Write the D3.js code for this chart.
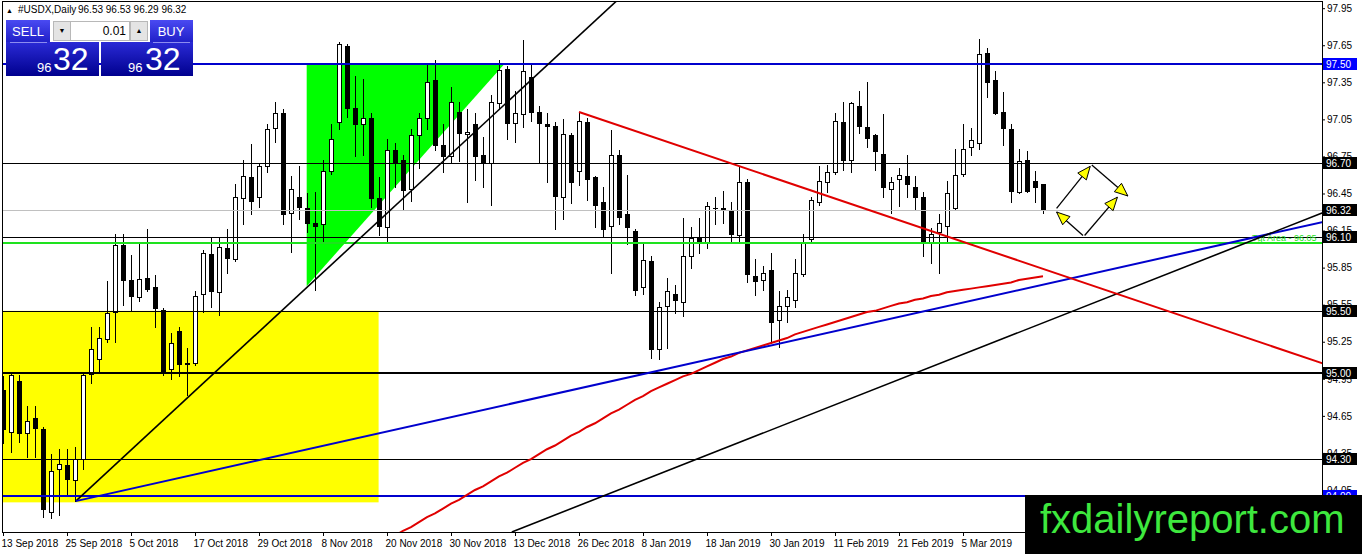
<!DOCTYPE html>
<html>
<head>
<meta charset="utf-8">
<script src="https://cdn.jsdelivr.net/npm/d3@7"></script>
<style>
  body { margin: 0; background: #fff; overflow: hidden; }
  svg { display: block; font-family: "Liberation Sans", Arial, sans-serif; }
</style>
</head>
<body>
<script>
// daily bars, one value per trading day starting 13 Sep 2018
var opens = [94.86,94.52,94.93,94.51,94.63,94.54,93.87,94.22,94.25,94.13,94.30,94.99,95.11,95.27,95.49,96.03,95.75,95.61,95.77,95.69,
  95.51,95.03,95.34,95.07,95.08,95.64,95.96,95.65,96.01,95.92,96.41,96.58,96.42,96.67,96.98,97.10,96.29,96.42,96.33,96.21,
  96.20,96.63,97.03,97.64,97.14,97.01,97.06,96.41,96.18,96.80,96.72,96.49,96.92,97.06,97.37,96.84,96.75,97.11,96.93,97.01,
  96.76,96.70,97.18,97.46,97.02,97.09,97.39,97.11,97.01,97.00,96.42,96.92,96.63,97.03,96.58,96.38,96.19,96.76,96.28,96.15,
  95.69,95.90,95.19,95.54,95.64,95.57,95.94,96.09,96.06,96.33,96.33,96.31,96.11,96.54,95.78,95.75,95.83,95.43,95.54,95.59,
  95.80,96.08,96.38,96.54,96.62,97.03,96.72,97.16,96.99,96.92,96.77,96.49,96.57,96.59,96.50,96.42,96.05,96.14,96.19,96.33,
  96.61,96.83,96.86,97.59,97.37,97.11,96.97,96.46,96.72,96.55,96.53];
var highs = [94.97,94.99,94.98,94.73,94.73,94.56,94.34,94.38,94.38,94.40,95.00,95.37,95.37,95.74,96.12,96.12,95.95,96.04,96.16,95.79,
  95.52,95.32,95.37,95.20,95.66,95.99,96.10,96.10,96.16,96.53,96.72,96.85,96.70,97.01,97.19,97.13,96.59,96.67,96.45,96.46,
  96.72,97.01,97.68,97.66,97.40,97.38,97.10,96.58,96.89,96.86,96.76,96.97,97.10,97.50,97.53,97.01,97.31,97.19,97.13,97.10,
  96.91,97.25,97.53,97.48,97.28,97.69,97.49,97.16,97.10,97.03,97.05,96.94,97.11,97.06,96.59,96.50,96.96,96.80,96.60,96.16,
  96.04,95.94,95.57,95.77,95.71,96.25,96.18,96.25,96.38,96.42,96.47,96.38,96.67,96.57,95.92,95.86,95.97,95.66,95.67,95.92,
  96.12,96.42,96.67,96.68,97.10,97.19,97.19,97.28,97.35,96.93,97.09,96.58,96.66,96.76,96.59,96.46,96.17,96.28,96.55,96.81,
  97.01,96.98,97.70,97.63,97.44,97.27,97.01,96.81,96.79,96.63,96.53];
var lows = [94.43,94.36,94.44,94.32,94.32,93.83,93.82,93.85,94.00,93.96,94.22,94.92,95.01,95.25,95.25,95.55,95.51,95.58,95.66,95.37,
  94.98,94.95,94.97,94.82,95.06,95.49,95.53,95.47,95.81,95.90,96.20,96.28,96.34,96.62,96.87,96.20,95.98,96.24,96.14,95.67,
  96.06,96.61,96.97,97.07,96.75,96.76,96.34,96.11,96.05,96.50,96.32,96.39,96.66,96.97,96.80,96.62,96.70,96.71,96.38,96.56,
  96.50,96.36,97.13,96.89,96.87,96.99,97.04,96.70,96.54,96.16,96.24,96.37,96.52,96.40,96.18,96.10,95.81,96.20,96.04,95.63,
  95.64,95.12,95.11,95.20,95.48,95.46,95.85,95.97,96.01,96.20,96.21,96.05,96.05,95.73,95.63,95.67,95.24,95.21,95.41,95.53,
  95.78,96.05,96.36,96.46,96.61,96.64,96.62,96.94,96.83,96.64,96.42,96.29,96.35,96.42,96.32,95.94,95.89,95.81,96.06,96.32,
  96.59,96.76,96.81,97.23,97.09,96.84,96.38,96.45,96.46,96.38,96.29];
var closes = [94.54,94.98,94.51,94.61,94.55,93.90,94.20,94.26,94.14,94.30,94.98,95.19,95.28,95.48,96.03,95.75,95.62,95.76,95.68,95.52,
  95.00,95.24,95.07,95.08,95.62,95.97,95.66,96.02,95.93,96.42,96.59,96.39,96.67,96.97,97.10,96.28,96.49,96.34,96.21,96.19,
  96.63,96.89,97.66,97.14,97.01,97.06,96.41,96.19,96.80,96.70,96.48,96.92,97.06,97.35,96.84,96.75,97.19,96.94,96.95,96.75,
  96.70,97.19,97.45,97.02,97.10,97.44,97.11,97.02,97.00,96.43,96.93,96.54,97.04,96.57,96.36,96.16,96.76,96.26,96.18,95.67,
  95.91,95.19,95.53,95.66,95.59,95.94,96.09,96.06,96.35,96.33,96.32,96.12,96.54,95.80,95.74,95.81,95.41,95.54,95.61,95.81,
  96.06,96.40,96.55,96.62,97.04,96.72,97.18,97.00,96.90,96.79,96.50,96.54,96.60,96.53,96.42,96.05,96.12,96.21,96.45,96.60,
  96.81,96.88,97.58,97.35,97.10,96.98,96.47,96.71,96.47,96.50,96.32];

// moving average, from bar maStart on
var maStart = 49;
var maValues = [93.68,93.72,93.75,93.79,93.83,93.86,93.90,93.94,93.97,94.01,94.05,94.08,94.12,94.16,94.19,94.23,94.27,94.30,94.34,94.38,
  94.41,94.45,94.49,94.52,94.56,94.59,94.63,94.67,94.70,94.74,94.78,94.81,94.85,94.88,94.91,94.94,94.97,94.99,95.02,95.05,
  95.08,95.11,95.13,95.16,95.18,95.20,95.22,95.24,95.26,95.28,95.31,95.33,95.35,95.37,95.39,95.41,95.43,95.45,95.47,95.49,
  95.50,95.52,95.54,95.56,95.57,95.59,95.60,95.62,95.63,95.65,95.66,95.67,95.68,95.69,95.70,95.71,95.72,95.73,95.75,95.76,
  95.77,95.78];

var dateLabels = ["13 Sep 2018","25 Sep 2018","5 Oct 2018","17 Oct 2018","29 Oct 2018","8 Nov 2018","20 Nov 2018","30 Nov 2018",
  "13 Dec 2018","26 Dec 2018","8 Jan 2019","18 Jan 2019","30 Jan 2019","11 Feb 2019","21 Feb 2019","5 Mar 2019"];
var priceTicks = [97.95,97.65,97.35,97.05,96.75,96.45,96.15,95.85,95.55,95.25,94.95,94.65,94.35,94.05];

// horizontal levels and their kind
var levelPrices = [97.50, 96.70, 96.10, 96.05, 95.50, 95.00, 94.30, 94.00];
var levelKinds  = ["blue", "thin", "thin", "target", "thin", "thick", "thin", "blue"];
var bidPrice = 96.32;
var targetText = "Tgt Area - 96.05";

// trend lines as [bar, price] anchors, drawn as rays to the right
var trendAnchors = [
  [[9.1, 93.96], [65.2, 97.32]],
  [[9.1, 93.96], [80.85, 95.00]],
  [[63.6, 93.71], [154.6, 96.03]],
  [[72, 97.11], [115.84, 96.15]]
];
var trendKinds = ["black", "blue", "black", "red"];

// background zones
var zoneRect = [[-2, 95.50], [46.95, 93.95]];
var zoneTriangle = [[37.96, 97.50], [62.7, 97.50], [37.96, 95.70]];

// scenario arrows after the last bar: [from, to]
var arrowSegs = [
  [[131.7, 96.33], [135.9, 96.67]],
  [[136.1, 96.68], [140.6, 96.43]],
  [[135.0, 96.11], [131.7, 96.30]],
  [[135.2, 96.11], [139.3, 96.42]]
];

var W = 1362, H = 554;
var plotL = 2.5, plotR = 1322.5, plotT = 1.5, plotB = 532.5;

var x = d3.scaleLinear().domain([0, 164]).range([3, 3 + 8 * 164]);
var y = d3.scaleLinear().domain([93.71, 98.0]).range([532, 2]);
function px(i) { return Math.round(x(i)) + 0.5; }
function py(p) { return Math.round(y(p)) + 0.5; }

var svg = d3.select("body").append("svg").attr("width", W).attr("height", H);

svg.append("defs").append("clipPath").attr("id", "plotClip")
  .append("rect").attr("x", plotL).attr("y", plotT).attr("width", plotR - plotL).attr("height", plotB - plotT);

var plot = svg.append("g").attr("clip-path", "url(#plotClip)");

// background objects
plot.append("rect")
  .attr("x", x(zoneRect[0][0])).attr("y", y(zoneRect[0][1]))
  .attr("width", x(zoneRect[1][0]) - x(zoneRect[0][0]))
  .attr("height", y(zoneRect[1][1]) - y(zoneRect[0][1]))
  .attr("fill", "#ffff00");

plot.append("path")
  .attr("d", "M" + zoneTriangle.map(function(d) { return x(d[0]) + "," + y(d[1]); }).join("L") + "Z")
  .attr("fill", "#00ff00");

// candles
var bars = d3.range(opens.length).map(function(i) {
  return { i: i, o: opens[i], h: highs[i], l: lows[i], c: closes[i] };
});
var candle = plot.append("g").attr("shape-rendering", "crispEdges")
  .selectAll("g").data(bars).enter().append("g");

candle.append("line")
  .attr("x1", function(d) { return px(d.i); })
  .attr("x2", function(d) { return px(d.i); })
  .attr("y1", function(d) { return Math.round(y(d.h)); })
  .attr("y2", function(d) { return Math.round(y(d.l)) + 1; })
  .attr("stroke", "#000");

function bodyTop(d) { return Math.round(y(Math.max(d.o, d.c))); }
function bodyBot(d) { return Math.round(y(Math.min(d.o, d.c))); }

candle.filter(function(d) { return bodyBot(d) > bodyTop(d); })
  .append("rect")
  .attr("x", function(d) { return px(d.i) - 2; })
  .attr("y", function(d) { return bodyTop(d) + 0.5; })
  .attr("width", 4)
  .attr("height", function(d) { return bodyBot(d) - bodyTop(d); })
  .attr("fill", function(d) { return d.c >= d.o ? "#fff" : "#000"; })
  .attr("stroke", "#000");

candle.filter(function(d) { return bodyBot(d) <= bodyTop(d); })
  .append("line")
  .attr("x1", function(d) { return px(d.i) - 2.5; })
  .attr("x2", function(d) { return px(d.i) + 2.5; })
  .attr("y1", function(d) { return bodyTop(d) + 0.5; })
  .attr("y2", function(d) { return bodyTop(d) + 0.5; })
  .attr("stroke", "#000");

// horizontal levels
var levelStyle = {
  blue:   { color: "#0000cd", w: 2 },
  thin:   { color: "#000", w: 1 },
  thick:  { color: "#000", w: 2 },
  target: { color: "#1ee21e", w: 2 }
};
plot.append("line")
  .attr("x1", plotL).attr("x2", plotR)
  .attr("y1", py(bidPrice)).attr("y2", py(bidPrice))
  .attr("stroke", "#c0c0c0").attr("shape-rendering", "crispEdges");

plot.selectAll(".level").data(levelPrices).enter().append("line")
  .attr("class", "level")
  .attr("x1", plotL).attr("x2", plotR)
  .attr("y1", function(d, k) { return levelStyle[levelKinds[k]].w === 2 ? Math.round(y(d)) : py(d); })
  .attr("y2", function(d, k) { return levelStyle[levelKinds[k]].w === 2 ? Math.round(y(d)) : py(d); })
  .attr("stroke", function(d, k) { return levelStyle[levelKinds[k]].color; })
  .attr("stroke-width", function(d, k) { return levelStyle[levelKinds[k]].w; })
  .attr("shape-rendering", "crispEdges");

plot.append("text")
  .attr("x", plotR - 6).attr("y", Math.round(y(96.05)) - 2)
  .attr("text-anchor", "end")
  .attr("font-size", 9)
  .attr("fill", "#1ee21e")
  .text(targetText);

// moving average
var maLine = d3.line()
  .x(function(d, k) { return x(maStart + k); })
  .y(function(d) { return y(d); });
plot.append("path").datum(maValues)
  .attr("d", maLine)
  .attr("fill", "none").attr("stroke", "#e00000").attr("stroke-width", 2);

// trend rays
var trendColor = { black: "#000", blue: "#0000cd", red: "#e00000" };
plot.selectAll(".trend").data(trendAnchors).enter().append("line")
  .attr("class", "trend")
  .attr("x1", function(d) { return x(d[0][0]); })
  .attr("y1", function(d) { return y(d[0][1]); })
  .attr("x2", function(d) { return x(170); })
  .attr("y2", function(d) {
    var s = (d[1][1] - d[0][1]) / (d[1][0] - d[0][0]);
    return y(d[0][1] + s * (170 - d[0][0]));
  })
  .attr("stroke", function(d, k) { return trendColor[trendKinds[k]]; })
  .attr("stroke-width", function(d, k) { return trendKinds[k] === "black" ? 1.6 : 2; });

// scenario arrows
var arrows = plot.append("g");
arrowSegs.forEach(function(s) {
  var x1 = x(s[0][0]), y1 = y(s[0][1]), x2 = x(s[1][0]), y2 = y(s[1][1]);
  var a = Math.atan2(y2 - y1, x2 - x1);
  arrows.append("line").attr("x1", x1).attr("y1", y1).attr("x2", x2).attr("y2", y2)
    .attr("stroke", "#000").attr("stroke-width", 1.3);
  var len = 13, half = 5.5;
  var bx = x2 - len * Math.cos(a), by = y2 - len * Math.sin(a);
  var pts = [[x2, y2],
    [bx + half * Math.sin(a), by - half * Math.cos(a)],
    [bx - half * Math.sin(a), by + half * Math.cos(a)]];
  arrows.append("path").attr("d", "M" + pts.join("L") + "Z")
    .attr("fill", "#ffff00").attr("stroke", "#000").attr("stroke-width", 1);
});

// frame
svg.append("rect")
  .attr("x", plotL).attr("y", plotT).attr("width", plotR - plotL).attr("height", plotB - plotT)
  .attr("fill", "none").attr("stroke", "#000").attr("shape-rendering", "crispEdges");

// price axis
var yAxis = d3.axisRight(y).tickValues(priceTicks).tickSize(3).tickSizeOuter(0).tickPadding(2)
  .tickFormat(d3.format(".2f"));
var yg = svg.append("g").attr("transform", "translate(" + (plotR - 0.5) + ",0)").call(yAxis);
yg.select(".domain").remove();
yg.attr("font-family", "Liberation Sans, Arial, sans-serif").attr("font-size", 10);

// date axis
var xAxis = d3.axisBottom(x).tickValues(d3.range(0, opens.length, 8)).tickSize(4).tickSizeOuter(0)
  .tickFormat(function(d, k) { return dateLabels[k]; });
var xg = svg.append("g").attr("transform", "translate(0," + (plotB - 0.5) + ")").call(xAxis);
xg.select(".domain").remove();
xg.attr("font-family", "Liberation Sans, Arial, sans-serif").attr("font-size", 10);
xg.selectAll("text").attr("text-anchor", "start").attr("x", -2).attr("y", 8);

// price labels on the axis for levels
var boxPrices = levelPrices.filter(function(d, k) { return levelKinds[k] !== "target"; });
var boxKinds = levelKinds.filter(function(d) { return d !== "target"; });
boxPrices.push(bidPrice); boxKinds.push("bid");
var boxes = svg.append("g").selectAll("g").data(boxPrices).enter().append("g")
  .attr("transform", function(d) { return "translate(" + (plotR + 0.5) + "," + Math.round(y(d)) + ")"; });
boxes.append("rect").attr("x", 0).attr("y", -6).attr("width", 34).attr("height", 12)
  .attr("fill", function(d, k) { return boxKinds[k] === "blue" ? "#0000ff" : "#000"; });
boxes.append("text").attr("x", 3).attr("y", 4).attr("font-size", 10).attr("fill", "#fff")
  .text(function(d) { return d.toFixed(2); });

// header line
var head = svg.append("text").attr("x", 6).attr("y", 13).attr("font-size", 10).attr("fill", "#000");
head.append("tspan").attr("font-size", 7).text("\u25B2");
head.append("tspan").attr("x", 18).text("#USDX,Daily");
head.append("tspan").attr("x", 78).text([opens[130], highs[130], lows[130], closes[130]].map(function(v) { return v.toFixed(2); }).join(" "));

// one click trading panel
var defs = svg.select("defs");
var g1 = defs.append("linearGradient").attr("id", "hdrGrad").attr("x1", 0).attr("y1", 0).attr("x2", 0).attr("y2", 1);
g1.append("stop").attr("offset", 0).attr("stop-color", "#4a4af2");
g1.append("stop").attr("offset", 1).attr("stop-color", "#2020c8");
var g2 = defs.append("linearGradient").attr("id", "boxGrad").attr("x1", 0).attr("y1", 0).attr("x2", 0).attr("y2", 1);
g2.append("stop").attr("offset", 0).attr("stop-color", "#2a2ad6");
g2.append("stop").attr("offset", 1).attr("stop-color", "#00008e");

var panel = svg.append("g");
panel.append("rect").attr("x", 6).attr("y", 20).attr("width", 44).attr("height", 22).attr("fill", "url(#hdrGrad)");
panel.append("rect").attr("x", 150).attr("y", 20).attr("width", 43).attr("height", 22).attr("fill", "url(#hdrGrad)");
panel.append("rect").attr("x", 6).attr("y", 42).attr("width", 93).attr("height", 34).attr("fill", "url(#boxGrad)");
panel.append("rect").attr("x", 101).attr("y", 42).attr("width", 92).attr("height", 34).attr("fill", "url(#boxGrad)");
panel.append("line").attr("x1", 10).attr("x2", 47).attr("y1", 42.5).attr("y2", 42.5).attr("stroke", "#8c8cf0");
panel.append("line").attr("x1", 153).attr("x2", 190).attr("y1", 42.5).attr("y2", 42.5).attr("stroke", "#8c8cf0");
panel.append("rect").attr("x", 53.5).attr("y", 21.5).attr("width", 17).attr("height", 19).attr("fill", "#e4e4e4").attr("stroke", "#b8b8b8");
panel.append("rect").attr("x", 70.5).attr("y", 21.5).attr("width", 59).attr("height", 19).attr("fill", "#fff").attr("stroke", "#b8b8b8");
panel.append("rect").attr("x", 130.5).attr("y", 21.5).attr("width", 17).attr("height", 19).attr("fill", "#e4e4e4").attr("stroke", "#b8b8b8");
panel.append("text").attr("x", 62).attr("y", 33).attr("text-anchor", "middle").attr("font-size", 7).text("\u25BC");
panel.append("text").attr("x", 139).attr("y", 33).attr("text-anchor", "middle").attr("font-size", 7).text("\u25B2");
panel.append("text").attr("x", 126).attr("y", 35).attr("text-anchor", "end").attr("font-size", 12).text("0.01");
panel.append("text").attr("x", 28).attr("y", 36).attr("text-anchor", "middle").attr("font-size", 13).attr("fill", "#fff").text("SELL");
panel.append("text").attr("x", 171).attr("y", 36).attr("text-anchor", "middle").attr("font-size", 13).attr("fill", "#fff").text("BUY");
var bid = closes[130].toFixed(2).split(".");
[[37, 53], [128, 145]].forEach(function(p) {
  panel.append("text").attr("x", p[0]).attr("y", 72).attr("font-size", 13).attr("fill", "#fff").text(bid[0]);
  panel.append("text").attr("x", p[1]).attr("y", 70).attr("font-size", 32).attr("fill", "#fff").text(bid[1]);
});

// watermark
svg.append("rect").attr("x", 1025).attr("y", 495).attr("width", W - 1025).attr("height", H - 495).attr("fill", "#000");
svg.append("text").attr("x", 1040).attr("y", 533).attr("font-size", 40).attr("fill", "#3ee83e").text("fxdailyreport.com");
</script>
</body>
</html>
